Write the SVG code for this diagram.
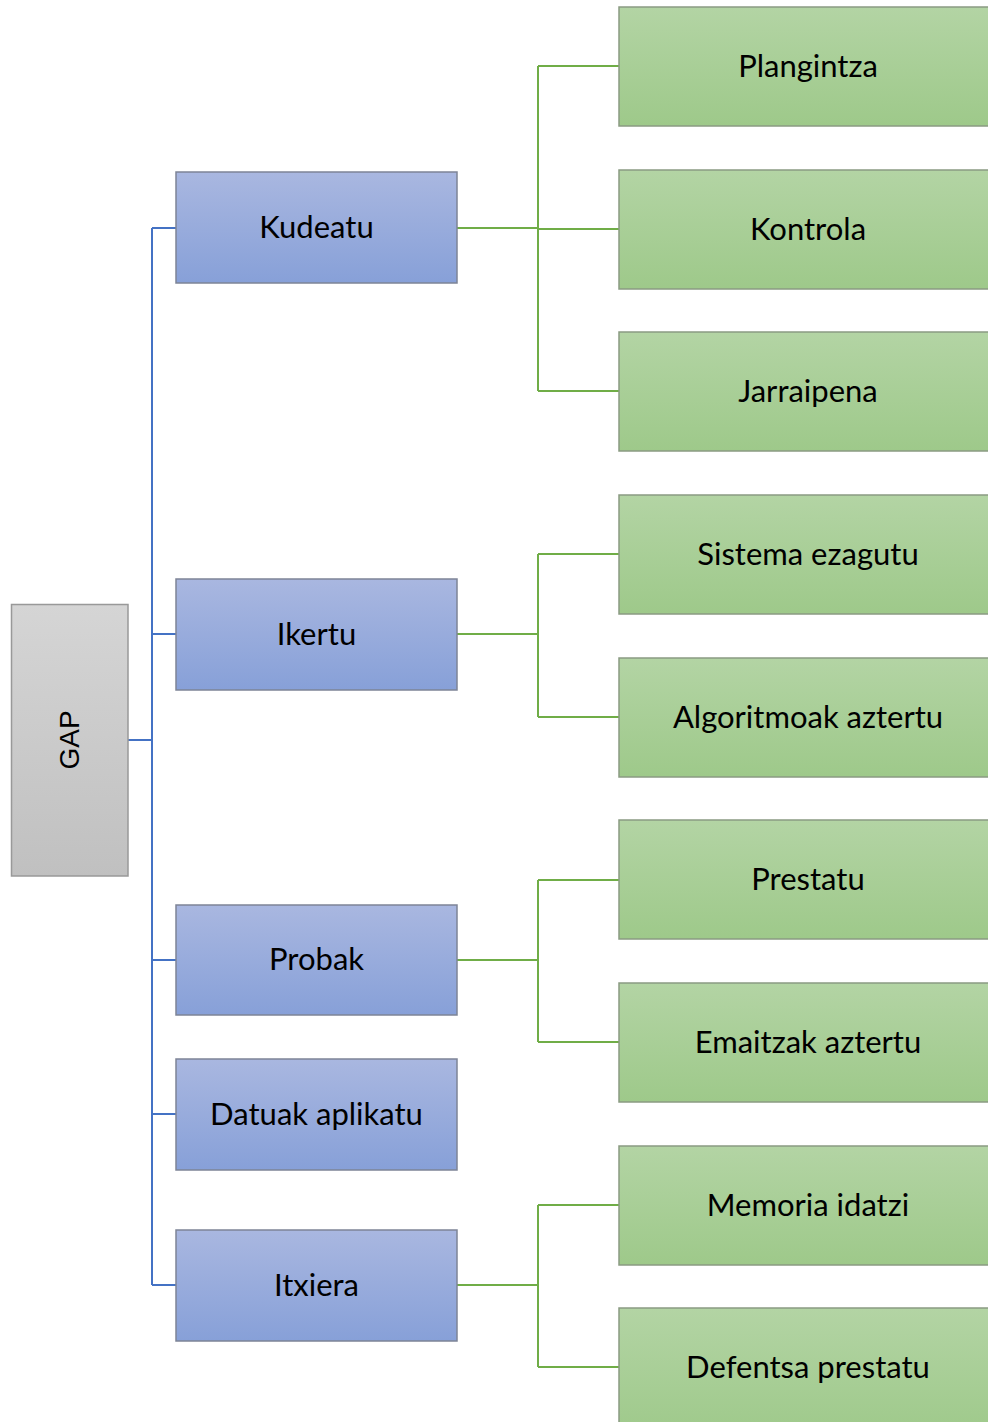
<svg xmlns="http://www.w3.org/2000/svg" width="988" height="1422" viewBox="0 0 988 1422">
<defs>
<linearGradient id="gGray" x1="0" y1="0" x2="0" y2="1"><stop offset="0" stop-color="#d5d5d5"/><stop offset="1" stop-color="#c0c0c0"/></linearGradient>
<linearGradient id="gBlue" x1="0" y1="0" x2="0" y2="1"><stop offset="0" stop-color="#a9b7e0"/><stop offset="1" stop-color="#87a0d8"/></linearGradient>
<linearGradient id="gGreen" x1="0" y1="0" x2="0" y2="1"><stop offset="0" stop-color="#b3d4a4"/><stop offset="1" stop-color="#9ec98a"/></linearGradient>
</defs>
<style>
.gray{fill:url(#gGray);stroke:#999;stroke-width:1.5}
.blue{fill:url(#gBlue);stroke:#7d8496;stroke-width:1.5}
.green{fill:url(#gGreen);stroke:#8a9a82;stroke-width:1.5}
.t{font-family:Lato,"Open Sans",sans-serif;font-size:31px;fill:#000;text-anchor:middle;dominant-baseline:central}
.tg{font-family:"Liberation Sans",Arial,sans-serif;font-size:28px;fill:#000;text-anchor:middle;dominant-baseline:central}
.cb{fill:none;stroke:#4472c4;stroke-width:2}
.cg{fill:none;stroke:#70ad47;stroke-width:2}
</style>
<g id="connectors">
<path class="cb" d="M128 740H152M152 228V1285M152 228H176M152 634H176M152 960H176M152 1114H176M152 1285H176"/>
<path class="cg" d="M457 228H538M538 66V391M538 66H619M538 229H619M538 391H619"/>
<path class="cg" d="M457 634H538M538 554V717M538 554H619M538 717H619"/>
<path class="cg" d="M457 960H538M538 880V1042M538 880H619M538 1042H619"/>
<path class="cg" d="M457 1285H538M538 1205V1367M538 1205H619M538 1367H619"/>
</g>
<g id="gap"><rect class="gray" x="11.5" y="604.5" width="116.5" height="271.5"/><text class="tg" transform="translate(69,740) rotate(-90)">GAP</text></g>
<g id="kudeatu"><rect class="blue" x="176" y="172" width="281" height="111"/><text class="t" x="316.5" y="225.5">Kudeatu</text></g>
<g id="ikertu"><rect class="blue" x="176" y="579" width="281" height="111"/><text class="t" x="316.5" y="632.5">Ikertu</text></g>
<g id="probak"><rect class="blue" x="176" y="905" width="281" height="110"/><text class="t" x="316.5" y="958">Probak</text></g>
<g id="datuak"><rect class="blue" x="176" y="1059" width="281" height="111"/><text class="t" x="316.5" y="1112.5">Datuak aplikatu</text></g>
<g id="itxiera"><rect class="blue" x="176" y="1230" width="281" height="111"/><text class="t" x="316.5" y="1283.5">Itxiera</text></g>
<g id="plangintza"><rect class="green" x="619" y="7" width="380" height="119"/><text class="t" x="808" y="64.5">Plangintza</text></g>
<g id="kontrola"><rect class="green" x="619" y="170" width="380" height="119"/><text class="t" x="808" y="227.5">Kontrola</text></g>
<g id="jarraipena"><rect class="green" x="619" y="332" width="380" height="119"/><text class="t" x="808" y="389.5">Jarraipena</text></g>
<g id="sistema"><rect class="green" x="619" y="495" width="380" height="119"/><text class="t" x="808" y="552.5">Sistema ezagutu</text></g>
<g id="algoritmoak"><rect class="green" x="619" y="658" width="380" height="119"/><text class="t" x="808" y="715.5">Algoritmoak aztertu</text></g>
<g id="prestatu"><rect class="green" x="619" y="820" width="380" height="119"/><text class="t" x="808" y="877.5">Prestatu</text></g>
<g id="emaitzak"><rect class="green" x="619" y="983" width="380" height="119"/><text class="t" x="808" y="1040.5">Emaitzak aztertu</text></g>
<g id="memoria"><rect class="green" x="619" y="1146" width="380" height="119"/><text class="t" x="808" y="1203.5">Memoria idatzi</text></g>
<g id="defentsa"><rect class="green" x="619" y="1308" width="380" height="130"/><text class="t" x="808" y="1365.5">Defentsa prestatu</text></g>
</svg>
